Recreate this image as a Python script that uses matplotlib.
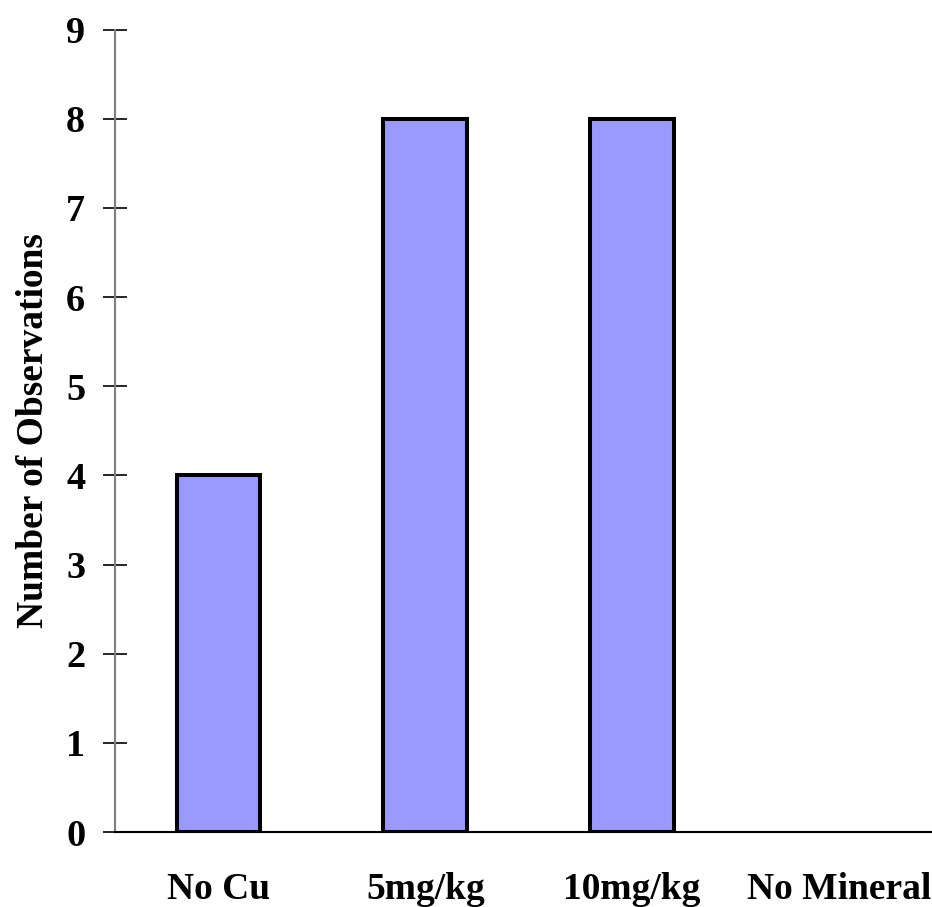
import matplotlib
matplotlib.use("Agg")
import matplotlib.pyplot as plt

categories = ["No Cu", "5mg/kg", "10mg/kg", "No Mineral"]
values = [4, 8, 8, 0]
yticks = list(range(0, 10))

plt.rcParams['font.family'] = ['Liberation Serif', 'DejaVu Serif']
plt.rcParams['font.weight'] = 'bold'

W, H = 932, 907
fig = plt.figure(figsize=(W/100, H/100), dpi=100)
left_px, bottom_px, top_px = 115, 75, 29.5
ax = fig.add_axes([left_px/W, bottom_px/H, (W-left_px)/W, (H-bottom_px-top_px)/H])

x = list(range(len(categories)))
edge_widths = [2.9 if v > 0 else 0 for v in values]
ax.bar(x, values, width=0.405, color='#9999FF', edgecolor='black',
       linewidth=edge_widths, zorder=3)

ax.set_xlim(-0.5, 3.45)
ax.set_ylim(0, 9)
ax.set_yticks(yticks)
ax.set_xticks(x)
ax.set_xticklabels(categories)

for s in ['top', 'right']:
    ax.spines[s].set_visible(False)
ax.spines['left'].set_color('#808080')
ax.spines['left'].set_linewidth(1.5)
ax.spines['bottom'].set_color('black')
ax.spines['bottom'].set_linewidth(1.5)
ax.spines['bottom'].set_zorder(4)

ax.tick_params(axis='y', direction='inout', length=17, width=1.2, color='black',
               labelsize=27.5, pad=13)
ax.tick_params(axis='x', length=0, labelsize=27, pad=28.5)
for lab in ax.get_xticklabels() + ax.get_yticklabels():
    lab.set_fontweight('bold')

ax.set_ylabel("Number of Observations", fontsize=27, fontweight='bold', labelpad=11)

fig.savefig("out.png", dpi=100)
